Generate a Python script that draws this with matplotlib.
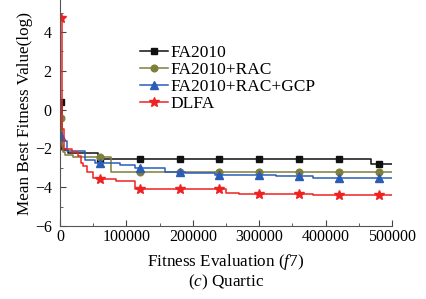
import numpy as np
import matplotlib
matplotlib.use("Agg")
from matplotlib import pyplot as plt
from matplotlib.lines import Line2D

plt.rcParams['font.family'] = ['Liberation Serif', 'DejaVu Serif']
plt.rcParams['mathtext.fontset'] = 'custom'
plt.rcParams['mathtext.it'] = 'Liberation Serif:italic'
plt.rcParams['mathtext.rm'] = 'Liberation Serif'

# step curves (evaluation, log10 of mean best fitness)
fa_x = [1000, 3000, 12000, 57000, 469000, 500000]
fa_y = [0.4, -2.1, -2.24, -2.53, -2.8, -2.8]

rac_x = [1000, 3000, 5000, 8000, 20000, 76800, 500000]
rac_y = [-0.45, -1.8, -2.2, -2.35, -2.42, -3.21, -3.21]

gcp_x = [1000, 5000, 10000, 37600, 52700, 90000, 113000, 158000, 188000, 233000,
         325000, 381000, 500000]
gcp_y = [-1.35, -1.64, -2.15, -2.58, -2.75, -2.87, -3.0, -3.21, -3.26, -3.35,
         -3.43, -3.52, -3.52]

dlfa_x = [1000, 3000, 6000, 18000, 27000, 32000, 35000, 40000, 50000, 55000,
          85000, 113000, 250000, 270000, 381000, 500000]
dlfa_y = [4.7, -1.0, -2.05, -2.2, -2.4, -2.75, -2.9, -3.24, -3.52, -3.57,
          -3.66, -4.07, -4.29, -4.33, -4.41, -4.41]

marker_x = [1000, 60000, 120000, 180000, 240000, 300000, 360000, 420000, 480000]

series = [
    ("FA2010", fa_x, fa_y, "#111111", "s", 4.3),
    ("FA2010+RAC", rac_x, rac_y, "#7f7f3a", "o", 4.8),
    ("FA2010+RAC+GCP", gcp_x, gcp_y, "#2b5cb8", "^", 5.2),
    ("DLFA", dlfa_x, dlfa_y, "#ee2222", "*", 7),
]

fig = plt.figure(figsize=(4.26, 2.99), dpi=100)
ax = fig.add_axes([0.141, 0.244, 0.779, 0.756])

handles = []
for name, xs, ys, c, m, ms in series:
    xs = np.array(xs)
    ys = np.array(ys)
    ax.plot(xs, ys, color=c, lw=1.1, drawstyle='steps-post')
    mx = np.array(marker_x)
    my = ys[np.searchsorted(xs, mx, side='right') - 1]
    ax.plot(mx, my, ls='none', marker=m, color=c, ms=ms)
    handles.append(Line2D([], [], color=c, lw=1.1, marker=m, ms=ms, label=name))

ax.set_xlim(0, 500000)
ax.set_ylim(-6, 5.65)
ax.set_xticks(np.arange(0, 500001, 100000))
ax.set_xticks(np.arange(50000, 500000, 100000), minor=True)
ax.set_yticks(np.arange(-6, 5, 2))
ax.set_yticks(np.arange(-5, 6, 2), minor=True)
ax.tick_params(which='both', direction='in', labelsize=11.5, color='#444444')
ax.tick_params(axis='x', pad=2)
ax.tick_params(axis='y', pad=6)
ax.tick_params(which='major', length=4)
ax.tick_params(which='minor', length=2)
for s in ['top', 'right']:
    ax.spines[s].set_visible(False)
for s in ['left', 'bottom']:
    ax.spines[s].set_color('#555555')

ax.set_ylabel("Mean Best Fitness Value(log)", fontsize=12.3, labelpad=1)
fig.text(0.53, 0.125, "Fitness Evaluation ($f$7)", ha='center', va='center', fontsize=12.3)
fig.text(0.53, 0.055, "($c$) Quartic", ha='center', va='center', fontsize=12.3)

ax.legend(handles=handles, loc='upper left', bbox_to_anchor=(0.241, 0.80), frameon=False,
          fontsize=12.5, labelspacing=0.04, handlelength=1.6, handletextpad=0.15,
          borderpad=0, borderaxespad=0)

fig.savefig("out.png", dpi=100)
